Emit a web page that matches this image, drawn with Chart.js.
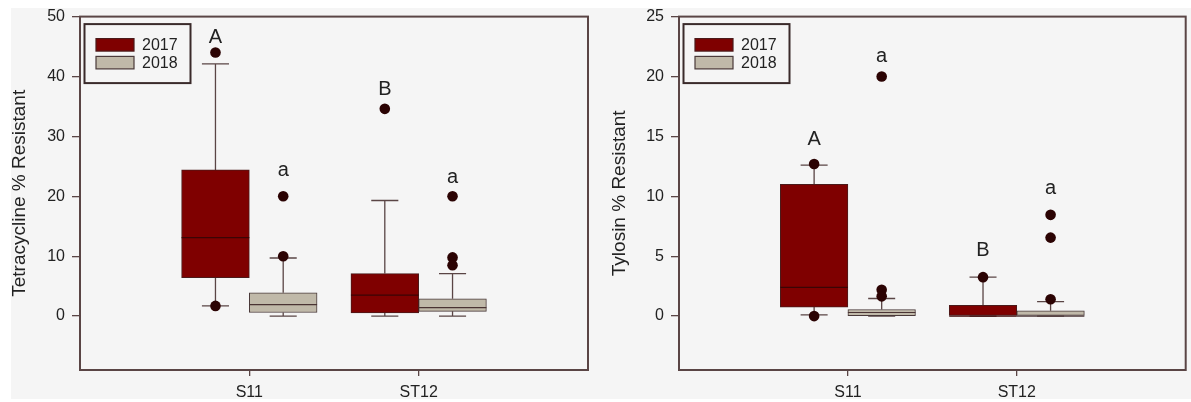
<!DOCTYPE html>
<html>
<head>
<meta charset="utf-8">
<script src="https://cdn.jsdelivr.net/npm/chart.js@4.4.0/dist/chart.umd.min.js"></script>
<style>
html,body{margin:0;padding:0;background:#fff;}
#wrap{position:relative;width:1191px;height:402px;overflow:hidden;background:#fff;}
#panel{position:absolute;left:11px;top:8px;width:1180px;height:391px;background:#f5f5f5;}
#c1{position:absolute;left:0;top:0;}
#c2{position:absolute;left:600px;top:0;}
#cut{position:absolute;left:0;top:399px;width:1191px;height:3px;background:#fff;}
</style>
</head>
<body>
<div id="wrap">
  <div id="panel"></div>
  <canvas id="c1" width="600" height="402"></canvas>
  <canvas id="c2" width="591" height="402"></canvas>
  <div id="cut"></div>
</div>
<script>
// ---------------- data ----------------
const categories = ['S11', 'ST12'];
const seriesNames = ['2017', '2018'];

// Tetracycline % Resistant
const tetTicks = [0, 10, 20, 30, 40, 50];
const tet2017Min = [1.7, 0];
const tet2017Q1 = [6.4, 0.55];
const tet2017Median = [13.1, 3.5];
const tet2017Q3 = [24.4, 7.1];
const tet2017Max = [42.1, 19.3];
const tet2017Outliers = [[44.0, 1.7], [34.6]];
const tet2018Min = [0, 0];
const tet2018Q1 = [0.6, 0.8];
const tet2018Median = [1.9, 1.4];
const tet2018Q3 = [3.9, 2.9];
const tet2018Max = [9.7, 7.1];
const tet2018Outliers = [[20.0, 10.0], [20.0, 9.8, 8.5]];
const tetLetters2017 = ['A', 'B'];
const tetLetterAt2017 = [45.6, 36.9];
const tetLetters2018 = ['a', 'a'];
const tetLetterAt2018 = [23.4, 22.3];

// Tylosin % Resistant
const tylTicks = [0, 5, 10, 15, 20, 25];
const tyl2017Min = [0.1, 0];
const tyl2017Q1 = [0.75, 0];
const tyl2017Median = [2.4, 0];
const tyl2017Q3 = [11.0, 0.9];
const tyl2017Max = [12.6, 3.25];
const tyl2017Outliers = [[12.7, 0], [3.25]];
const tyl2018Min = [0, 0];
const tyl2018Q1 = [0.03, 0];
const tyl2018Median = [0.3, 0];
const tyl2018Q3 = [0.55, 0.44];
const tyl2018Max = [1.47, 1.2];
const tyl2018Outliers = [[20.0, 2.2, 1.65], [8.45, 6.55, 1.4]];
const tylLetters2017 = ['A', 'B'];
const tylLetterAt2017 = [14.3, 5.0];
const tylLetters2018 = ['a', 'a'];
const tylLetterAt2018 = [21.2, 10.2];

// ---------------- styling ----------------
const FONT = '"Liberation Sans", Arial, sans-serif';
const FILL = ['#7f0000', '#c0b9a9'];
const EDGE = ['#4a1a1a', '#4a3a3a'];
const MED = ['#3a0505', '#4a3434'];
const LINE = '#5a4545';
const DOT = '#2b0303';
const TEXT = '#222222';
const DODGE = 0.2; // half of a box width, in category units

function makeChart(canvasId, p) {
  const shifts = [-DODGE, DODGE];
  const datasets = [];
  p.series.forEach((s, k) => {
    datasets.push({
      type: 'bar',
      label: seriesNames[k],
      data: categories.map((c, i) => ({x: i + 1 + shifts[k], y: [s.q1[i], s.q3[i]]})),
      backgroundColor: FILL[k],
      borderColor: EDGE[k],
      borderWidth: 1,
      borderSkipped: false,
      grouped: false,
      categoryPercentage: 1,
      barPercentage: 1,
      order: 2
    });
  });
  p.series.forEach((s, k) => {
    datasets.push({
      type: 'scatter',
      label: seriesNames[k] + ' outliers',
      data: s.outliers.flatMap((list, i) => list.map(v => ({x: i + 1 + shifts[k], y: v}))),
      backgroundColor: DOT, borderColor: DOT, borderWidth: 0,
      pointRadius: 5.3, pointHoverRadius: 5.3,
      order: 1
    });
  });

  const boxPlugin = {
    id: 'boxparts',
    beforeDatasetsDraw(chart) {
      const ctx = chart.ctx, y = chart.scales.y, a = chart.chartArea;
      ctx.save();
      ctx.strokeStyle = LINE; ctx.lineWidth = 2;
      ctx.strokeRect(a.left, a.top, a.right - a.left, a.bottom - a.top);
      ctx.lineWidth = 1.3;
      p.series.forEach((s, k) => {
        const meta = chart.getDatasetMeta(k);
        categories.forEach((c, i) => {
          const el = meta.data[i];
          if (!el) return;
          const {x, width} = el.getProps(['x', 'width'], true);
          const cap = width * 0.2;
          const yq1 = y.getPixelForValue(s.q1[i]), yq3 = y.getPixelForValue(s.q3[i]);
          const ymin = y.getPixelForValue(s.min[i]), ymax = y.getPixelForValue(s.max[i]);
          ctx.strokeStyle = LINE;
          ctx.beginPath();
          ctx.moveTo(x, yq3); ctx.lineTo(x, ymax);
          ctx.moveTo(x, yq1); ctx.lineTo(x, ymin);
          ctx.moveTo(x - cap, ymax); ctx.lineTo(x + cap, ymax);
          ctx.moveTo(x - cap, ymin); ctx.lineTo(x + cap, ymin);
          ctx.stroke();
        });
      });
      ctx.restore();
    },
    afterDatasetsDraw(chart) {
      const ctx = chart.ctx, y = chart.scales.y, xsc = chart.scales.x, a = chart.chartArea;
      ctx.save();
      p.series.forEach((s, k) => {
        const meta = chart.getDatasetMeta(k);
        categories.forEach((c, i) => {
          const el = meta.data[i];
          if (!el) return;
          const {x, width} = el.getProps(['x', 'width'], true);
          const ym = y.getPixelForValue(s.med[i]);
          ctx.strokeStyle = MED[k]; ctx.lineWidth = 1.2;
          ctx.beginPath(); ctx.moveTo(x - width / 2, ym); ctx.lineTo(x + width / 2, ym); ctx.stroke();
        });
      });
      ctx.fillStyle = TEXT; ctx.font = '20px ' + FONT;
      ctx.textAlign = 'center'; ctx.textBaseline = 'alphabetic';
      p.series.forEach((s, k) => {
        categories.forEach((c, i) => {
          ctx.fillText(s.letters[i], xsc.getPixelForValue(i + 1 + shifts[k]), y.getPixelForValue(s.letterAt[i]));
        });
      });
      const L = a.left, T = a.top;
      ctx.strokeStyle = '#3a2a2a'; ctx.lineWidth = 2;
      ctx.strokeRect(L + 4.5, T + 7.5, 106, 59);
      ctx.font = '16px ' + FONT; ctx.textAlign = 'left'; ctx.textBaseline = 'middle';
      seriesNames.forEach((n, k) => {
        const top = T + 22 + k * 17.8;
        ctx.fillStyle = FILL[k]; ctx.fillRect(L + 16, top, 38, 12.5);
        ctx.strokeStyle = EDGE[k]; ctx.lineWidth = 1.2; ctx.strokeRect(L + 16, top, 38, 12.5);
        ctx.fillStyle = TEXT; ctx.fillText(n, L + 62, top + 6.8);
      });
      ctx.restore();
    }
  };

  return new Chart(document.getElementById(canvasId), {
    data: {datasets},
    options: {
      responsive: false,
      animation: false,
      events: [],
      layout: {padding: {top: 15, right: p.rightPad, left: 0, bottom: 0}},
      plugins: {legend: {display: false}, tooltip: {enabled: false}},
      scales: {
        x: {
          type: 'linear', min: 0, max: categories.length + 1, offset: false,
          afterBuildTicks: sc => { sc.ticks = categories.map((c, i) => ({value: i + 1})); },
          grid: {drawOnChartArea: false, drawTicks: true, tickLength: 6, offset: false, color: LINE, lineWidth: 1.3},
          border: {display: false},
          ticks: {font: {size: 16, family: FONT}, color: TEXT, padding: 7, maxRotation: 0, autoSkip: false,
                  callback: v => categories[Math.round(v) - 1] || ''},
          afterFit: sc => { sc.height = 32; }
        },
        y: {
          type: 'linear', min: p.yMin, max: p.yMax,
          afterBuildTicks: sc => { sc.ticks = p.ticks.map(v => ({value: v})); },
          grid: {drawOnChartArea: false, drawTicks: true, tickLength: 8, color: LINE, lineWidth: 1.3},
          border: {display: false},
          ticks: {font: {size: 16, family: FONT}, color: TEXT, padding: 7},
          title: {display: true, text: p.title, font: {size: 19, family: FONT}, color: TEXT, padding: {top: 8, bottom: 0}},
          afterFit: sc => { sc.width = p.yWidth; }
        }
      }
    },
    plugins: [boxPlugin]
  });
}

makeChart('c1', {
  title: 'Tetracycline % Resistant', ticks: tetTicks, yMin: -9, yMax: 50, yWidth: 80, rightPad: 12,
  series: [
    {min: tet2017Min, q1: tet2017Q1, med: tet2017Median, q3: tet2017Q3, max: tet2017Max, outliers: tet2017Outliers, letters: tetLetters2017, letterAt: tetLetterAt2017},
    {min: tet2018Min, q1: tet2018Q1, med: tet2018Median, q3: tet2018Q3, max: tet2018Max, outliers: tet2018Outliers, letters: tetLetters2018, letterAt: tetLetterAt2018}
  ]
});
makeChart('c2', {
  title: 'Tylosin % Resistant', ticks: tylTicks, yMin: -4.5, yMax: 25, yWidth: 79, rightPad: 4,
  series: [
    {min: tyl2017Min, q1: tyl2017Q1, med: tyl2017Median, q3: tyl2017Q3, max: tyl2017Max, outliers: tyl2017Outliers, letters: tylLetters2017, letterAt: tylLetterAt2017},
    {min: tyl2018Min, q1: tyl2018Q1, med: tyl2018Median, q3: tyl2018Q3, max: tyl2018Max, outliers: tyl2018Outliers, letters: tylLetters2018, letterAt: tylLetterAt2018}
  ]
});
</script>
</body>
</html>
